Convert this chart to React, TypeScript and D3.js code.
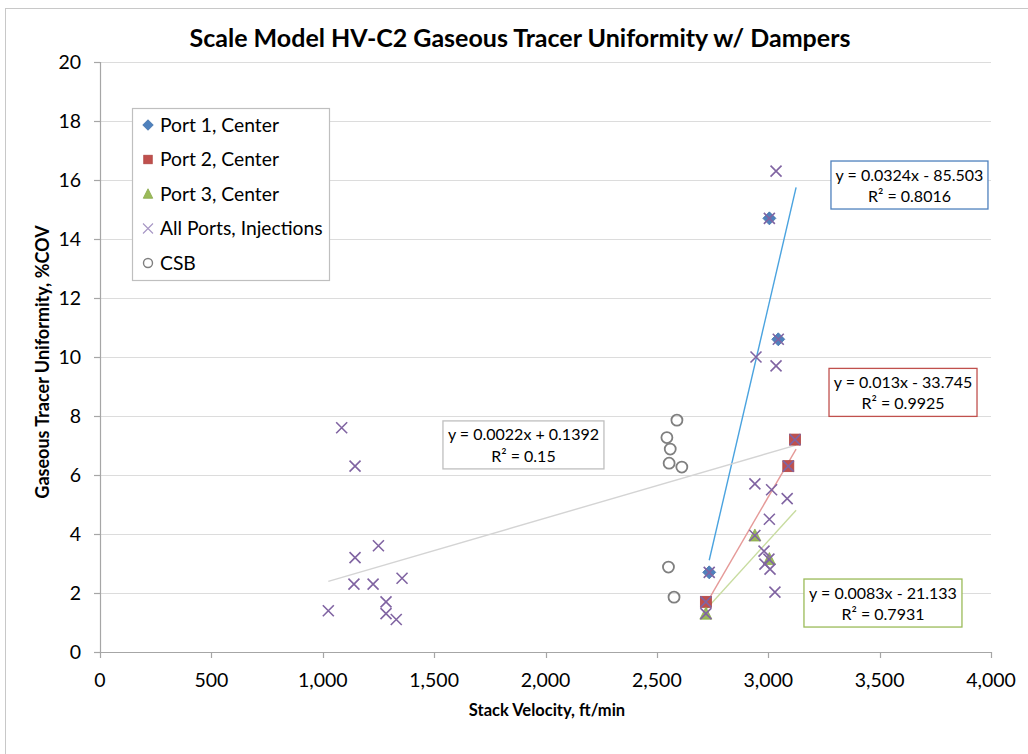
import React from "react";
import * as d3 from "d3";

const title = "Scale Model HV-C2 Gaseous Tracer Uniformity w/ Dampers";
const xLabel = "Stack Velocity, ft/min";
const yLabel = "Gaseous Tracer Uniformity, %COV";

const xTicks = [0, 500, 1000, 1500, 2000, 2500, 3000, 3500, 4000];
const yTicks = [0, 2, 4, 6, 8, 10, 12, 14, 16, 18, 20];

const port1X = [2735, 3005, 3045];
const port1Y = [2.7, 14.7, 10.6];
const port2X = [2720, 3090, 3120];
const port2Y = [1.7, 6.3, 7.2];
const port3X = [2720, 2940, 3005];
const port3Y = [1.3, 3.95, 3.15];
const allX = [1025, 1085, 1145, 1145, 1250, 1140, 1226, 1356, 1284, 1284, 1330,
  3035, 3005, 3045, 2945, 3035, 3120, 3090, 2940, 3015, 3085, 3005, 2940, 2981, 3003, 2985, 3008, 3030, 2735, 2720, 2720];
const allY = [1.4, 7.6, 6.3, 3.2, 3.6, 2.3, 2.3, 2.5, 1.7, 1.3, 1.1,
  16.3, 14.7, 10.6, 10.0, 9.7, 7.2, 6.3, 5.7, 5.5, 5.2, 4.5, 3.95, 3.42, 3.15, 2.98, 2.81, 2.03, 2.7, 1.7, 1.3];
const csbX = [2590, 2545, 2560, 2555, 2612, 2552, 2577];
const csbY = [7.86, 7.27, 6.88, 6.4, 6.27, 2.88, 1.86];

// trendline equations (slope, intercept) and labels
const trendSlopes = [0.0324, 0.013, 0.0083, 0.0022];
const trendIntercepts = [-85.503, -33.745, -21.133, 0.1392];
const trendEq = ["y = 0.0324x - 85.503", "y = 0.013x - 33.745", "y = 0.0083x - 21.133", "y = 0.0022x + 0.1392"];
const trendR2 = ["R² = 0.8016", "R² = 0.9925", "R² = 0.7931", "R² = 0.15"];
const trendEndX = 3125;

const legendNames = ["Port 1, Center", "Port 2, Center", "Port 3, Center", "All Ports, Injections", "CSB"];

const FONT = "Lato, 'Liberation Sans', sans-serif";

const margin = { left: 100, top: 62, right: 1028 - 991, bottom: 754 - 652 };
const W = 1028, H = 754;

function Marker({ kind, x, y, s }: { kind: string; x: number; y: number; s: number }) {
  const h = s / 2;
  if (kind === "diamond")
    return <path d={`M${x},${y - h - 1}L${x + h + 1},${y}L${x},${y + h + 1}L${x - h - 1},${y}Z`} fill="#4F81BD" stroke="#3f6fa8" strokeWidth={0.8} />;
  if (kind === "square")
    return <rect x={x - h} y={y - h} width={s} height={s} fill="#C0504D" stroke="#b04542" strokeWidth={0.8} />;
  if (kind === "triangle")
    return <path d={`M${x},${y - h - 1}L${x + h + 0.5},${y + h}L${x - h - 0.5},${y + h}Z`} fill="#9BBB59" stroke="#8aa94c" strokeWidth={0.8} />;
  if (kind === "x")
    return <path d={`M${x - h},${y - h}L${x + h},${y + h}M${x - h},${y + h}L${x + h},${y - h}`} stroke="#8064A2" strokeWidth={1.6} fill="none" />;
  return <circle cx={x} cy={y} r={h} fill="none" stroke="#7F7F7F" strokeWidth={1.8} />;
}

export default function App() {
  const x = d3.scaleLinear().domain([0, 4000]).range([margin.left, W - margin.right]);
  const y = d3.scaleLinear().domain([0, 20]).range([H - margin.bottom, margin.top]);
  const fmt = d3.format(",");

  const series = [
    { xs: port1X, ys: port1Y, kind: "diamond" },
    { xs: port2X, ys: port2Y, kind: "square" },
    { xs: port3X, ys: port3Y, kind: "triangle" },
  ];
  const trendSeries = [port1X, port2X, port3X, allX];
  const trendColors = ["#4aa3df", "#e59a98", "#c8dca0", "#d4d4d4"];
  const boxColors = ["#4F81BD", "#C0504D", "#9BBB59", "#BFBFBF"];
  // label box centre positions in data units
  const boxCx = [3634, 3605, 3515, 1901];
  const boxCy = [15.83, 8.8, 1.66, 7.02];
  const boxW = [157, 148, 158, 161];

  const legendKinds = ["diamond", "square", "triangle", "xl", "circle"];

  return (
    <svg width={W} height={H} style={{ position: "absolute", left: 0, top: 0, fontFamily: FONT }}>
      <rect x={0} y={0} width={W} height={H} fill="#fff" />
      <rect x={5.5} y={8.5} width={W + 20} height={H + 20} fill="none" stroke="#c8c8c8" />
      <text x={520} y={47} textAnchor="middle" fontSize={25} fontWeight="bold" fill="#000">{title}</text>

      {/* gridlines */}
      {yTicks.filter((t) => t > 0).map((t) => (
        <line key={t} x1={x(0)} x2={x(4000)} y1={Math.round(y(t)) + 0.5} y2={Math.round(y(t)) + 0.5} stroke="#dcdcdc" strokeWidth={1.2} />
      ))}
      {/* axes */}
      <line x1={x(0) + 0.5} x2={x(0) + 0.5} y1={y(20)} y2={y(0)} stroke="#a6a6a6" strokeWidth={1.2} />
      <line x1={x(0) - 6} x2={x(4000)} y1={y(0) + 0.5} y2={y(0) + 0.5} stroke="#a6a6a6" strokeWidth={1.2} />
      {yTicks.map((t) => (
        <g key={t}>
          <line x1={x(0) - 6} x2={x(0)} y1={Math.round(y(t)) + 0.5} y2={Math.round(y(t)) + 0.5} stroke="#a6a6a6" strokeWidth={1.2} />
          <text x={81} y={y(t) + 6.5} textAnchor="end" fontSize={19.5} fill="#000">{t}</text>
        </g>
      ))}
      {xTicks.map((t) => (
        <g key={t}>
          <line x1={Math.round(x(t)) + 0.5} x2={Math.round(x(t)) + 0.5} y1={y(0)} y2={y(0) + 6} stroke="#a6a6a6" strokeWidth={1.2} />
          <text x={x(t)} y={y(0) + 35} textAnchor="middle" fontSize={19.5} fill="#000">{fmt(t)}</text>
        </g>
      ))}
      <text x={547} y={716} textAnchor="middle" fontSize={16.5} fontWeight="bold">{xLabel}</text>
      <text transform={`translate(49,362) rotate(-90)`} textAnchor="middle" fontSize={18} fontWeight="bold">{yLabel}</text>

      {/* trendlines */}
      {trendSeries.map((xs, i) => {
        const x0 = d3.min(xs) as number;
        const line = d3.line<number>().x((v) => x(v)).y((v) => y(trendSlopes[i] * v + trendIntercepts[i]));
        return <path key={i} d={line([x0, trendEndX]) as string} stroke={trendColors[i]} strokeWidth={1.4} fill="none" />;
      })}

      {/* points */}
      {series.map((s, si) => s.xs.map((v, i) => (
        <Marker key={`${si}-${i}`} kind={s.kind} x={x(v)} y={y(s.ys[i])} s={11} />
      )))}
      {allX.map((v, i) => <Marker key={`a${i}`} kind="x" x={x(v)} y={y(allY[i])} s={11} />)}
      {csbX.map((v, i) => <Marker key={`c${i}`} kind="circle" x={x(v)} y={y(csbY[i])} s={11} />)}

      {/* trend labels */}
      {trendEq.map((eq, i) => {
        const cx = x(boxCx[i]);
        const cy = y(boxCy[i]);
        return (
          <g key={i}>
            <rect x={cx - boxW[i] / 2} y={cy - 24} width={boxW[i]} height={48} fill="#fff" stroke={boxColors[i]} strokeWidth={1.3} />
            <text x={cx} y={cy - 4.5} textAnchor="middle" fontSize={16} fill="#000">{eq}</text>
            <text x={cx} y={cy + 17} textAnchor="middle" fontSize={16} fill="#000">{trendR2[i]}</text>
          </g>
        );
      })}

      {/* legend */}
      <rect x={132.5} y={108.5} width={197} height={172} fill="#fff" stroke="#bfbfbf" strokeWidth={1.2} />
      {legendNames.map((n, i) => {
        const ly = 125 + i * 34.5;
        const k = legendKinds[i];
        return (
          <g key={n}>
            {k === "xl" ? (
              <path d={`M143,${ly - 5}L153,${ly + 5}M143,${ly + 5}L153,${ly - 5}`} stroke="#a796c4" strokeWidth={1.1} fill="none" />
            ) : k === "circle" ? (
              <circle cx={148} cy={ly} r={4.5} fill="none" stroke="#7F7F7F" strokeWidth={1.4} />
            ) : (
              <Marker kind={k} x={148} y={ly} s={8.5} />
            )}
            <text x={160} y={ly + 6.5} fontSize={19.3} fill="#000">{n}</text>
          </g>
        );
      })}
    </svg>
  );
}
